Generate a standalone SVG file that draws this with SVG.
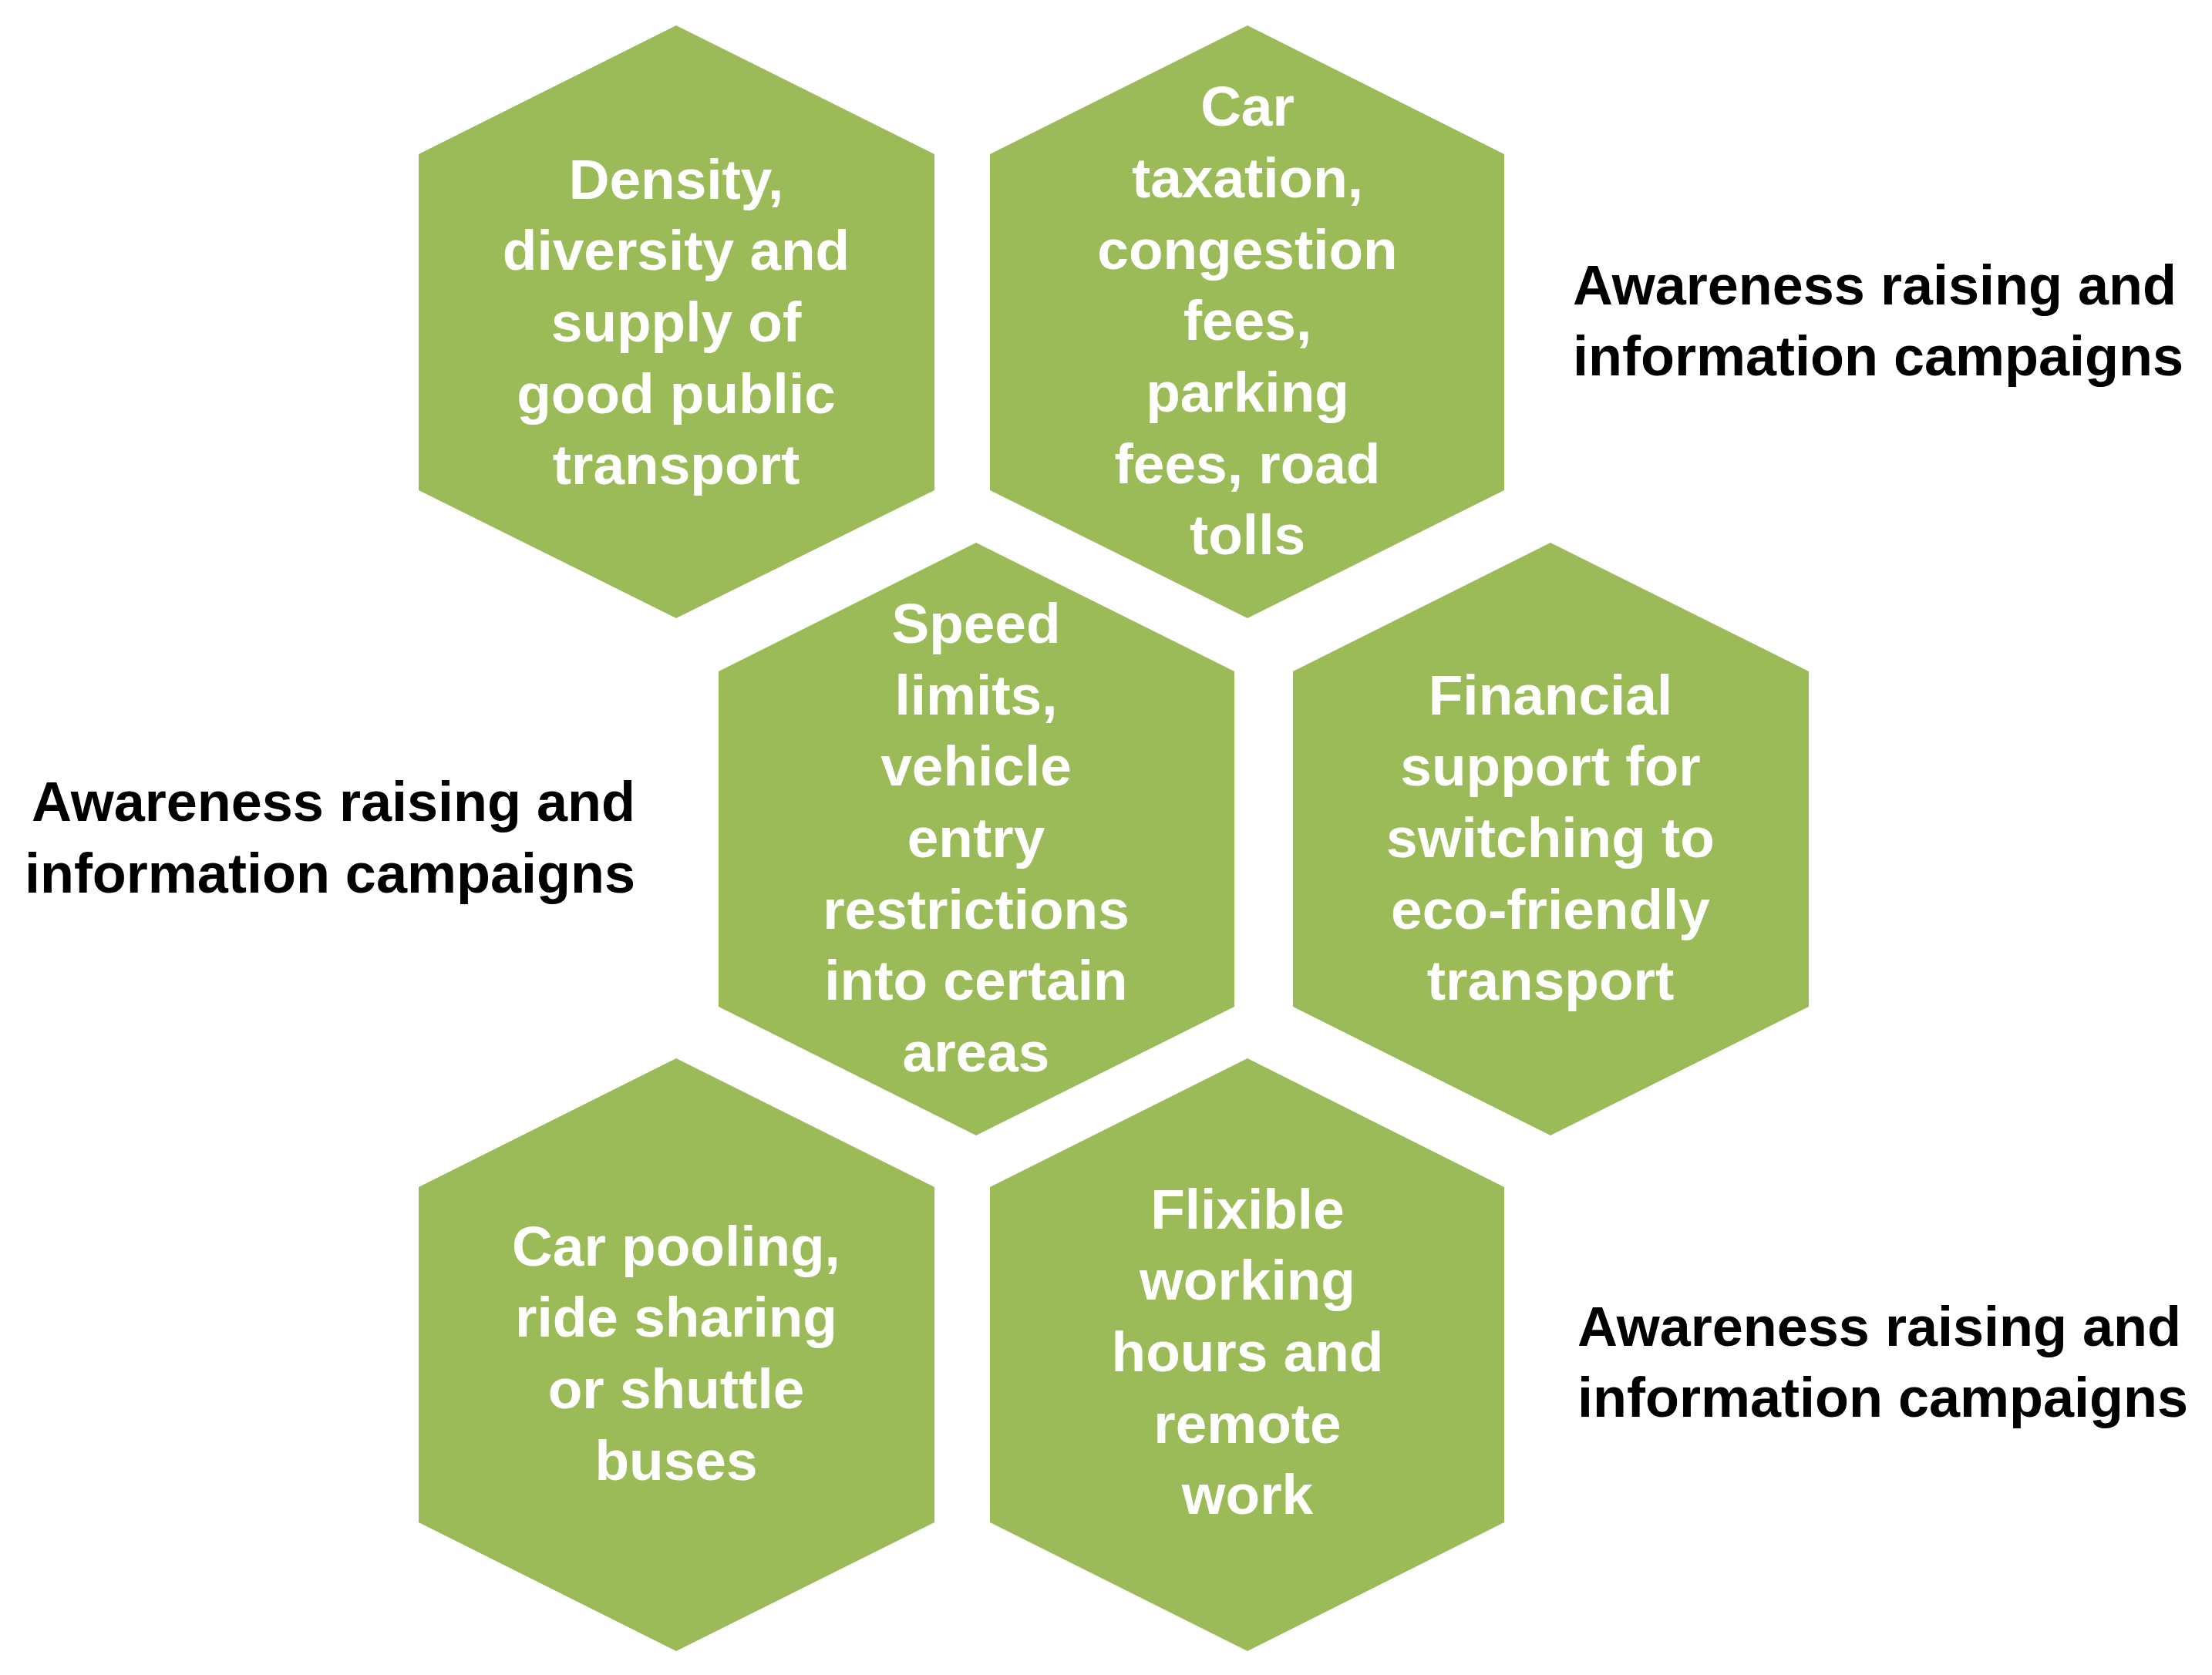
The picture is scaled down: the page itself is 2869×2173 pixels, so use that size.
<svg xmlns="http://www.w3.org/2000/svg" width="2869" height="2173" viewBox="0 0 2869 2173">
<style>
.hex{fill:#9BBB59}
.t{font-family:"Liberation Sans",Arial,sans-serif;font-weight:bold;font-size:73px;fill:#fff;text-anchor:middle}
.s{font-family:"Liberation Sans",Arial,sans-serif;font-weight:bold;font-size:72px;fill:#000}
</style>
<rect width="2869" height="2173" fill="#fff"/>
<g id="n1"><polygon class="hex" points="877,33 1212,200 1212,636 877,802 543,636 543,200"/>
<text class="t"><tspan x="877" y="258">Density,</tspan><tspan x="877" y="350">diversity and</tspan><tspan x="877" y="443">supply of</tspan><tspan x="877" y="536">good public</tspan><tspan x="877" y="628">transport</tspan></text></g>
<g id="n2"><polygon class="hex" points="1618,33 1951,200 1951,636 1618,802 1284,636 1284,200"/>
<text class="t"><tspan x="1618" y="163">Car</tspan><tspan x="1618" y="256">taxation,</tspan><tspan x="1618" y="349">congestion</tspan><tspan x="1618" y="441">fees,</tspan><tspan x="1618" y="534">parking</tspan><tspan x="1618" y="627">fees, road</tspan><tspan x="1618" y="719">tolls</tspan></text></g>
<g id="n3"><polygon class="hex" points="1266,704 1601,871 1601,1306 1266,1473 932,1306 932,871"/>
<text class="t"><tspan x="1266" y="834">Speed</tspan><tspan x="1266" y="927">limits,</tspan><tspan x="1266" y="1019">vehicle</tspan><tspan x="1266" y="1112">entry</tspan><tspan x="1266" y="1205">restrictions</tspan><tspan x="1266" y="1297">into certain</tspan><tspan x="1266" y="1390">areas</tspan></text></g>
<g id="n4"><polygon class="hex" points="2011,704 2346,871 2346,1306 2011,1473 1677,1306 1677,871"/>
<text class="t"><tspan x="2011" y="927">Financial</tspan><tspan x="2011" y="1019">support for</tspan><tspan x="2011" y="1112">switching to</tspan><tspan x="2011" y="1205">eco-friendly</tspan><tspan x="2011" y="1297">transport</tspan></text></g>
<g id="n5"><polygon class="hex" points="877,1373 1212,1540 1212,1975 877,2142 543,1975 543,1540"/>
<text class="t"><tspan x="877" y="1642">Car pooling,</tspan><tspan x="877" y="1734">ride sharing</tspan><tspan x="877" y="1827">or shuttle</tspan><tspan x="877" y="1920">buses</tspan></text></g>
<g id="n6"><polygon class="hex" points="1618,1373 1951,1540 1951,1975 1618,2142 1284,1975 1284,1540"/>
<text class="t"><tspan x="1618" y="1594">Flixible</tspan><tspan x="1618" y="1686">working</tspan><tspan x="1618" y="1779">hours and</tspan><tspan x="1618" y="1872">remote</tspan><tspan x="1618" y="1964">work</tspan></text></g>
<g id="l1"><text class="s"><tspan x="2040" y="395">Awareness raising and</tspan><tspan x="2040" y="487">information campaigns</tspan></text></g>
<g id="l2"><text class="s" text-anchor="end"><tspan x="824" y="1065">Awareness raising and</tspan><tspan x="824" y="1158">information campaigns</tspan></text></g>
<g id="l3"><text class="s"><tspan x="2046" y="1746">Awareness raising and</tspan><tspan x="2046" y="1838">information campaigns</tspan></text></g>
<g id="connectors"></g>
</svg>
